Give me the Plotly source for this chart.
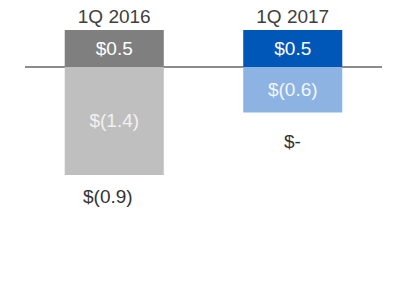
import plotly.graph_objects as go

categories = ["1Q 2016", "1Q 2017"]
positive_values = [0.49, 0.49]
negative_values = [-1.42, -0.6]
positive_labels = ["$0.5", "$0.5"]
negative_labels = ["$(1.4)", "$(0.6)"]
total_labels = ["$(0.9)", "$-"]

pos_colors = ["#7f7f7f", "#0057b8"]
neg_colors = ["#bfbfbf", "#8db3e2"]
neg_text_colors = ["#f2f2f2", "#f2f6fc"]
FONT = "Liberation Sans, Arial, sans-serif"

fig = go.Figure()
fig.add_trace(go.Bar(
    x=categories, y=positive_values, text=positive_labels,
    marker=dict(color=pos_colors, line=dict(width=0)),
    textposition="inside", insidetextanchor="middle",
    textfont=dict(family=FONT, size=19, color="white"),
    width=0.555, hoverinfo="skip",
))
fig.add_trace(go.Bar(
    x=categories, y=negative_values, text=negative_labels,
    marker=dict(color=neg_colors, line=dict(width=0)),
    textposition="inside", insidetextanchor="middle",
    textfont=dict(family=FONT, size=19, color=neg_text_colors),
    width=0.555, hoverinfo="skip",
))

yshifts = [-9, -16]
xshifts = [-6, 0]
for cat, neg, lab, ys, xs in zip(categories, negative_values, total_labels, yshifts, xshifts):
    fig.add_annotation(x=cat, y=neg, text=lab, showarrow=False, yanchor="top",
                       yshift=ys, xshift=xs,
                       font=dict(family=FONT, size=19, color="#333333"))

fig.update_layout(
    width=400, height=300, margin=dict(l=0, r=0, t=0, b=0),
    barmode="relative", showlegend=False,
    paper_bgcolor="white", plot_bgcolor="white",
    uniformtext=dict(mode=False),
    xaxis=dict(domain=[0.0625, 0.955], range=[-0.5, 1.5], side="top",
               showgrid=False, showline=False, ticks="", zeroline=False,
               ticklabelstandoff=2,
               tickfont=dict(family=FONT, size=19, color="#404040")),
    yaxis=dict(domain=[0, 0.9], range=[-3.066, 0.487], showgrid=False,
               showticklabels=False, zeroline=True, zerolinecolor="#8c8c8c",
               zerolinewidth=2, showline=False, ticks=""),
)
fig.write_html("out.html")
